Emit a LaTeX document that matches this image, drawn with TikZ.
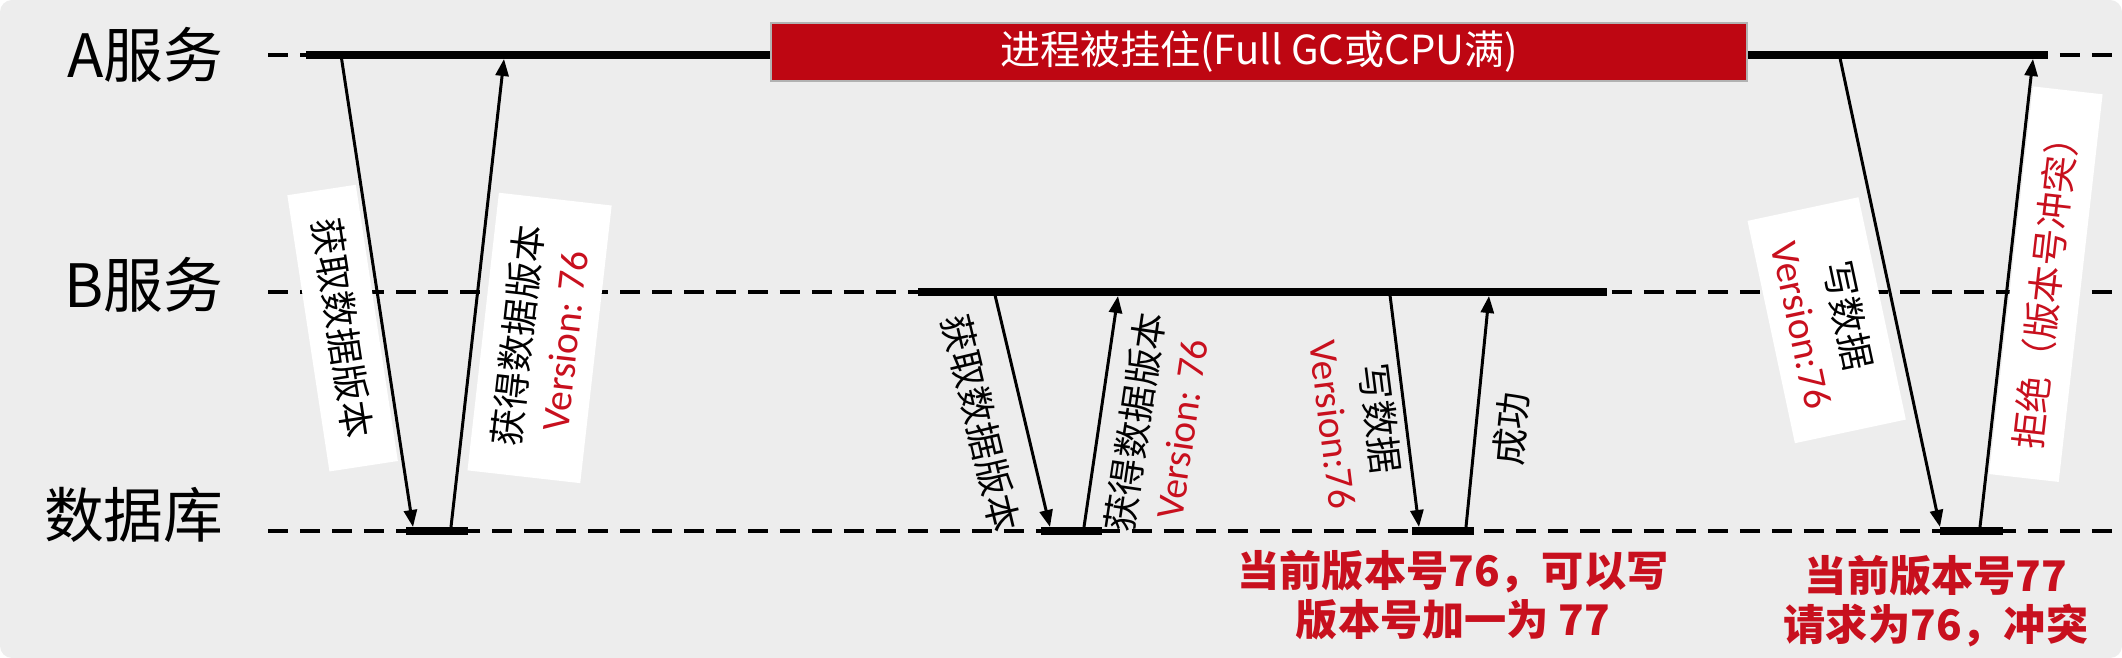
\documentclass[tikz,border=0pt]{standalone}
\usepackage{fontspec}
\setmainfont{Noto Sans CJK SC}
\newfontfamily\verfont{Carlito}
\usepackage{xcolor}
\usepackage{tikz}
\usetikzlibrary{arrows.meta}

\definecolor{bgGray}{RGB}{237,237,237}
\definecolor{hangRed}{RGB}{190,6,18}
\definecolor{noteRed}{RGB}{200,16,30}
\newcommand{\vtag}[1]{\textcolor{noteRed}{\verfont\fontsize{11.2}{13.4}\selectfont #1}}

\begin{document}
\begin{tikzpicture}[x=0.1mm, y=-0.1mm]
	\tikzset{
		lane/.style={draw=black, line width=1.1pt, dash pattern=on 2mm off 1.2mm},
		busy/.style={draw=black, line width=2pt},
		hold/.style={draw=black, line width=2.3pt},
		msg/.style={draw=black, line width=0.85pt, -{Triangle[length=1.7mm, width=1.3mm]}},
		lanename/.style={anchor=east, inner sep=0pt, font=\fontsize{17}{20}\selectfont},
		tag/.style={sloped, anchor=north, align=center, font=\fontsize{10.5}{13.4}\selectfont, inner xsep=2.9mm, inner ysep=0.5mm, outer sep=0pt},
		tagbox/.style={tag, fill=white, inner ysep=1.75mm},
		verdict/.style={align=center, text=noteRed, font=\bfseries\fontsize{12}{14}\selectfont}
	}

	% background
	\useasboundingbox (0,0) rectangle (2122,658);
	\fill[bgGray, rounded corners=1.2mm] (0,0) rectangle (2122,658);

	% lifelines
	\node[lanename] (laneA) at (224,55) {A服务};
	\node[lanename] (laneB) at (224,285) {B服务};
	\node[lanename] (laneDB) at (224,515) {数据库};
	\draw[lane] (268,55) -- (2112,55);
	\draw[lane] (268,292) -- (2112,292);
	\draw[lane] (268,531) -- (2112,531);

	% active parts
	\draw[busy] (306,55) -- (2048,55);
	\draw[busy] (918,292) -- (1607,292);
	\draw[hold] (406,531) -- (468,531);
	\draw[hold] (1041,531) -- (1102,531);
	\draw[hold] (1412,531) -- (1474,531);
	\draw[hold] (1940,531) -- (2003,531);

	% A hangs
	\node[fill=hangRed, draw=gray!60, text=white, minimum width=97.6mm, minimum height=5.8mm, inner sep=0pt,
		font=\fontsize{11.4}{13}\selectfont] (gc) at (1259,52) {进程被挂住(Full GC或CPU满)};

	% A reads the version
	\coordinate (a1) at (341,55);
	\coordinate (d1) at (413,527);
	\coordinate (d2) at (451,527);
	\coordinate (a2) at (504,59);
	\draw[msg] (a1) -- node[tagbox, pos=0.566, outer ysep=0.5mm] (t1) {获取数据版本} (d1);
	\draw[msg] (d2) -- node[tagbox, pos=0.42, outer ysep=1mm] (t2) {获得数据版本\\\vtag{Version: 76}} (a2);

	% B reads and writes
	\coordinate (b3) at (995,295);
	\coordinate (d3) at (1050,527);
	\coordinate (d4) at (1084,527);
	\coordinate (b4) at (1118,296);
	\coordinate (b5) at (1390,295);
	\coordinate (d5) at (1419,527);
	\coordinate (d6) at (1466,527);
	\coordinate (b6) at (1489,296);
	\draw[msg] (b3) -- node[tag, pos=0.51, outer ysep=2.1mm] (t3) {获取数据版本} (d3);
	\draw[msg] (d4) -- node[tag, pos=0.476, outer ysep=1.3mm] (t4) {获得数据版本\\\vtag{Version: 76}} (b4);
	\draw[msg] (b5) -- node[tag, pos=0.52, outer ysep=0.3mm] (t5) {写数据\\\vtag{Version:76}} (d5);
	\draw[msg] (d6) -- node[tag, pos=0.44, outer ysep=1.3mm] (t6) {成功} (b6);
	\node[verdict] (ok) at (1453,595) {当前版本号76，可以写\\版本号加一为 77};

	% A wakes up and writes
	\coordinate (a7) at (1840,58);
	\coordinate (d7) at (1940,527);
	\coordinate (d8) at (1980,527);
	\coordinate (a8) at (2033,59);
	\draw[msg] (a7) -- node[tagbox, pos=0.529, outer ysep=1.1mm] (t7) {写数据\\\vtag{Version:76}} (d7);
	\draw[msg] (d8) -- node[tagbox, pos=0.528, outer ysep=0.3mm, text=noteRed] (t8) {拒绝（版本号冲突）} (a8);
	\node[verdict] (clash) at (1936,601) {当前版本号77\\请求为76，冲突};
\end{tikzpicture}
\end{document}
